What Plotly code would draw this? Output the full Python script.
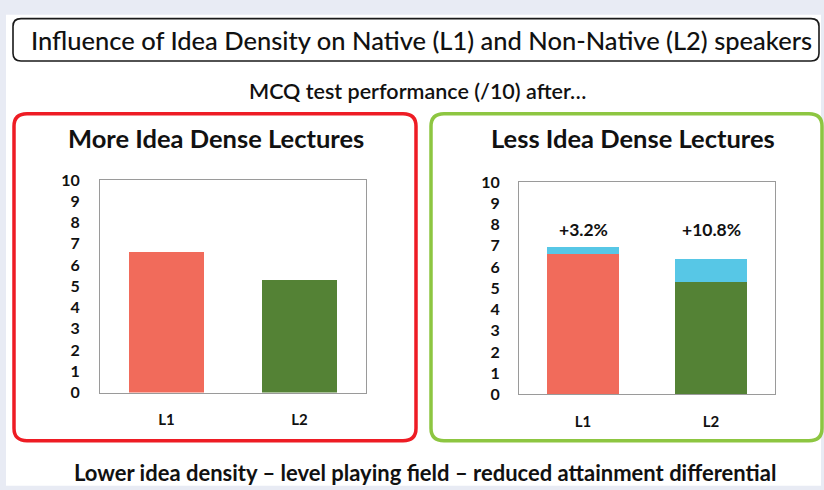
import plotly.graph_objects as go

W, H = 824, 490

# ---------------- data ----------------
categories = ["L1", "L2"]
more_dense_scores = [6.6, 5.3]
less_dense_base = [6.6, 5.3]
less_dense_gain = [0.32, 1.08]
gain_labels = ["+3.2%", "+10.8%"]
gain_label_y = [7.75, 7.75]
y_ticks = list(range(0, 11))

title_text = "Influence of Idea Density on Native (L1) and Non-Native (L2) speakers"
subtitle_text = "MCQ test performance (/10) after…"
panel_titles = ["More Idea Dense Lectures", "Less Idea Dense Lectures"]
footer_text = "Lower idea density – level playing field – reduced attainment differential"

# ---------------- styles ----------------
FONT = "Lato, 'Open Sans', sans-serif"
bar_colors = ["#F16B5B", "#548235"]
gain_color = "#57C7E6"
TXT = "#111111"


def px(x):
    return x / W


def py(y):
    return 1 - y / H


def rounded_path(x0, y0, x1, y1, r):
    X = lambda v: f"{px(v):.5f}"
    Y = lambda v: f"{py(v):.5f}"
    return (
        f"M {X(x0 + r)},{Y(y0)} L {X(x1 - r)},{Y(y0)} Q {X(x1)},{Y(y0)} {X(x1)},{Y(y0 + r)} "
        f"L {X(x1)},{Y(y1 - r)} Q {X(x1)},{Y(y1)} {X(x1 - r)},{Y(y1)} "
        f"L {X(x0 + r)},{Y(y1)} Q {X(x0)},{Y(y1)} {X(x0)},{Y(y1 - r)} "
        f"L {X(x0)},{Y(y0 + r)} Q {X(x0)},{Y(y0)} {X(x0 + r)},{Y(y0)} Z"
    )


fig = go.Figure()

fig.add_trace(go.Bar(x=categories, y=more_dense_scores, marker=dict(color=bar_colors, line=dict(width=0)),
                     xaxis="x", yaxis="y", hoverinfo="x+y"))
fig.add_trace(go.Bar(x=categories, y=less_dense_base, marker=dict(color=bar_colors, line=dict(width=0)),
                     xaxis="x2", yaxis="y2", hoverinfo="x+y"))
fig.add_trace(go.Bar(x=categories, y=less_dense_gain, marker=dict(color=gain_color, line=dict(width=0)),
                     xaxis="x2", yaxis="y2", hoverinfo="x+y"))

axis_common = dict(showline=True, mirror=True, linecolor="#9a9a9a", linewidth=1.2,
                   showgrid=False, zeroline=False, ticks="")
ytickfont = dict(family=FONT, size=16, color=TXT, weight="bold")
xtickfont = dict(family=FONT, size=15, color=TXT, weight="bold")

fig.update_layout(
    width=W, height=H, autosize=False,
    margin=dict(l=0, r=0, t=0, b=0),
    paper_bgcolor="#E8EBF4", plot_bgcolor="white",
    showlegend=False, barmode="stack", bargap=0.43,
    xaxis=dict(domain=[px(100), px(366)], anchor="y", ticklabelstandoff=13, tickfont=xtickfont, **axis_common),
    yaxis=dict(domain=[py(398), py(177)], anchor="x", range=[0, 10], tickvals=y_ticks,
               ticklabelstandoff=16, tickfont=ytickfont, **axis_common),
    xaxis2=dict(domain=[px(519), px(775)], anchor="y2", ticklabelstandoff=13, tickfont=xtickfont, **axis_common),
    yaxis2=dict(domain=[py(400), py(179)], anchor="x2", range=[0, 10], tickvals=y_ticks,
                ticklabelstandoff=15, tickfont=ytickfont, **axis_common),
)

shapes = [
    dict(type="rect", xref="paper", yref="paper", x0=px(6), x1=px(821), y0=py(5), y1=py(495),
         fillcolor="white", line=dict(width=0), layer="below"),
    dict(type="path", xref="paper", yref="paper", path=rounded_path(13, 9, 819, 53, 8),
         line=dict(color="#1a1a1a", width=1.6), layer="above"),
    dict(type="path", xref="paper", yref="paper", path=rounded_path(14, 108, 416, 448, 13),
         line=dict(color="#EE1C24", width=3.5), layer="above"),
    dict(type="path", xref="paper", yref="paper", path=rounded_path(431, 108, 822, 448, 13),
         line=dict(color="#8DC641", width=3.5), layer="above"),
]
fig.update_layout(shapes=shapes)

annotations = [
    dict(text=title_text, x=px(421), y=py(31), font=dict(family=FONT, size=25.5, color=TXT, weight=500)),
    dict(text=subtitle_text, x=px(417), y=py(84), font=dict(family=FONT, size=21.5, color=TXT, weight=600)),
    dict(text=panel_titles[0], x=px(216), y=py(133), font=dict(family=FONT, size=25.5, color=TXT, weight="bold")),
    dict(text=panel_titles[1], x=px(633), y=py(133), font=dict(family=FONT, size=25.5, color=TXT, weight="bold")),
    dict(text=footer_text, x=px(425), y=py(481), font=dict(family=FONT, size=22, color=TXT, weight="bold")),
]
for a in annotations:
    a.update(xref="paper", yref="paper", showarrow=False, xanchor="center", yanchor="middle")

for cat, lab, ly in zip(categories, gain_labels, gain_label_y):
    annotations.append(dict(text=lab, x=cat, y=ly, xref="x2", yref="y2", showarrow=False,
                            font=dict(family=FONT, size=17.5, color=TXT, weight="bold")))

fig.update_layout(annotations=annotations)

fig.write_html("out.html", config={"displayModeBar": False},
               post_script="document.body.style.margin='0';document.body.style.overflow='hidden';")
